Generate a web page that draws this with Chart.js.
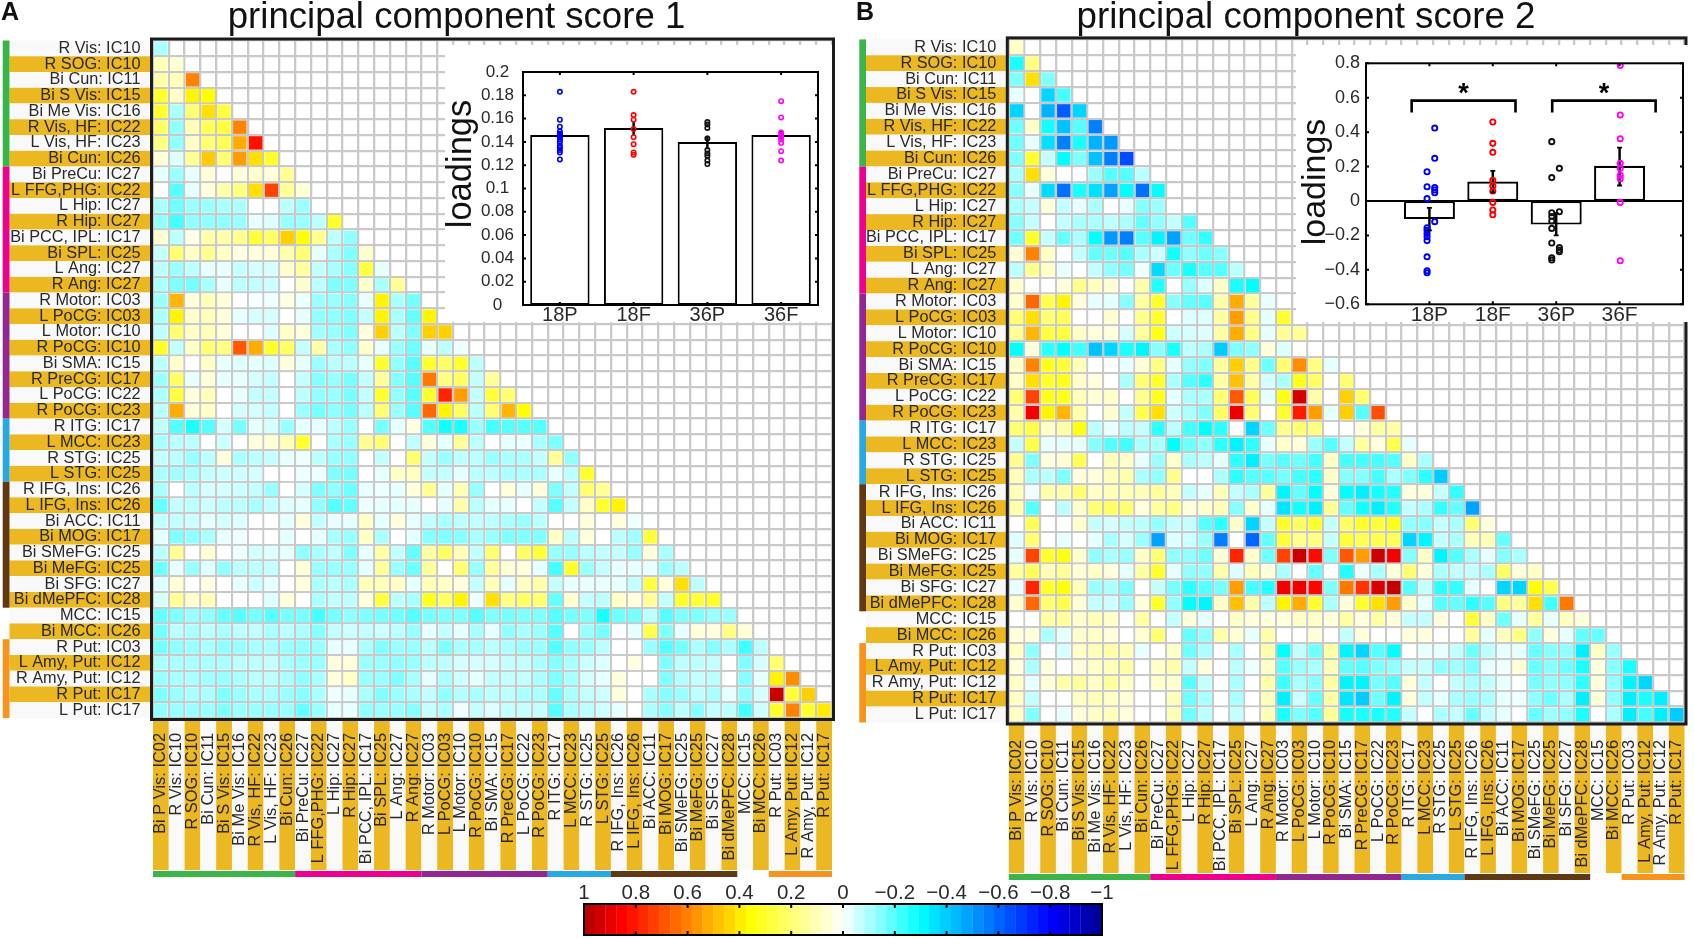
<!DOCTYPE html>
<html><head><meta charset="utf-8">
<style>
html,body{margin:0;padding:0;background:#fff;width:1694px;height:938px;overflow:hidden}
canvas{position:absolute;display:block}
#insetA,#insetB{background:#fff}
</style>
<script src="https://cdn.jsdelivr.net/npm/chart.js@4/dist/chart.umd.min.js"></script>
</head><body>
<canvas id="heatA" width="845" height="890" style="left:0;top:0;width:845px;height:890px"></canvas>
<canvas id="heatB" width="844" height="890" style="left:850px;top:0;width:844px;height:890px"></canvas>
<canvas id="insetA" width="387" height="277" style="left:445px;top:45px;width:387px;height:277px"></canvas>
<canvas id="insetB" width="394" height="277" style="left:1296px;top:45px;width:394px;height:277px"></canvas>
<canvas id="cbar" width="560" height="66" style="left:564px;top:872px;width:560px;height:66px"></canvas>
<script>
const rowLabels=["R Vis: IC10","R SOG: IC10","Bi Cun: IC11","Bi S Vis: IC15","Bi Me Vis: IC16","R Vis, HF: IC22","L Vis, HF: IC23","Bi Cun: IC26","Bi PreCu: IC27","L FFG,PHG: IC22","L Hip: IC27","R Hip: IC27","Bi PCC, IPL: IC17","Bi SPL: IC25","L Ang: IC27","R Ang: IC27","R Motor: IC03","L PoCG: IC03","L Motor: IC10","R PoCG: IC10","Bi SMA: IC15","R PreCG: IC17","L PoCG: IC22","R PoCG: IC23","R ITG: IC17","L MCC: IC23","R STG: IC25","L STG: IC25","R IFG, Ins: IC26","L IFG, Ins: IC26","Bi ACC: IC11","Bi MOG: IC17","Bi SMeFG: IC25","Bi MeFG: IC25","Bi SFG: IC27","Bi dMePFC: IC28","MCC: IC15","Bi MCC: IC26","R Put: IC03","L Amy, Put: IC12","R Amy, Put: IC12","R Put: IC17","L Put: IC17"];
const colLabels=["Bi P Vis: IC02","R Vis: IC10","R SOG: IC10","Bi Cun: IC11","Bi S Vis: IC15","Bi Me Vis: IC16","R Vis, HF: IC22","L Vis, HF: IC23","Bi Cun: IC26","Bi PreCu: IC27","L FFG,PHG: IC22","L Hip: IC27","R Hip: IC27","Bi PCC, IPL: IC17","Bi SPL: IC25","L Ang: IC27","R Ang: IC27","R Motor: IC03","L PoCG: IC03","L Motor: IC10","R PoCG: IC10","Bi SMA: IC15","R PreCG: IC17","L PoCG: IC22","R PoCG: IC23","R ITG: IC17","L MCC: IC23","R STG: IC25","L STG: IC25","R IFG, Ins: IC26","L IFG, Ins: IC26","Bi ACC: IC11","Bi MOG: IC17","Bi SMeFG: IC25","Bi MeFG: IC25","Bi SFG: IC27","Bi dMePFC: IC28","MCC: IC15","Bi MCC: IC26","R Put: IC03","L Amy, Put: IC12","R Amy, Put: IC12","R Put: IC17"];
const groupColors=["#39b54a","#ec008c","#92278f","#27aae1","#603913","#f7941d"];
const groupRows=[[0,7],[8,15],[16,23],[24,27],[28,35],[38,42]];
const groupCols=[[0,8],[9,16],[17,24],[25,28],[29,36],[39,42]];

const matrixA=[
[-.1],
[.1,.06],
[.12,.1,.6],
[.3,.08,.38,.36],
[.3,-.1,.2,.42,.27],
[.22,-.13,.1,.24,.27,.6],
[.18,-.13,.08,.2,.24,.52,.82],
[.06,-.04,.15,.46,.2,.55,.42,.3],
[-.03,-.12,-.03,.05,0,.05,.07,.05,.15],
[0,-.2,-.03,.05,.12,.18,.42,.72,.15,.06],
[-.1,-.17,-.12,-.12,-.1,-.1,0,0,-.08,-.12,0],
[-.13,-.22,-.13,-.13,-.13,-.12,-.03,-.04,-.12,-.12,-.08,.3],
[.07,-.08,.03,.12,.12,.16,.28,.22,.45,.36,.16,-.08,-.13],
[-.07,.2,.08,.16,.08,.04,.05,.05,.12,.2,-.03,-.1,-.15,.07],
[-.08,-.12,-.08,-.03,-.03,-.07,-.05,-.05,.07,.14,-.07,-.1,-.14,.27,-.03],
[-.1,-.15,-.16,-.1,-.03,-.08,-.07,-.06,0,.07,-.08,-.15,-.15,.07,-.1,.15],
[-.12,.5,.05,.1,.05,0,-.01,-.02,.04,-.02,-.12,-.12,-.14,-.03,.38,-.1,-.16],
[-.1,.38,.07,.1,.05,-.03,-.05,-.05,0,-.03,-.13,-.13,-.15,-.07,.38,-.1,-.18,.38],
[-.08,.2,.08,.1,.05,0,0,-.04,.08,.05,-.11,-.12,-.15,.05,.45,-.08,-.15,.45,.45],
[.3,-.07,.08,.2,.18,.68,.52,.3,.22,-.07,.12,-.1,-.13,.07,-.03,-.12,-.17,-.03,-.08,-.02],
[-.08,.07,0,.08,-.03,-.04,-.03,-.04,.05,-.03,-.12,-.08,-.08,-.03,.3,-.13,-.2,.3,.22,.3,-.08],
[-.12,.22,-.03,.05,-.03,-.03,-.05,-.07,0,-.07,-.14,-.12,-.16,-.07,.14,-.14,-.2,.62,.18,.22,-.07,.14],
[-.1,.27,.05,.1,0,-.03,-.07,-.07,0,-.08,-.13,-.12,-.16,-.07,.3,-.13,-.2,.3,.78,.55,-.07,.28,.2],
[-.08,.52,.05,.08,0,-.05,-.05,-.07,0,-.12,-.16,-.13,-.16,-.08,.2,-.12,-.2,.65,.38,.22,-.08,.2,.5,.36],
[-.08,-.2,-.27,-.2,-.05,-.16,-.03,-.05,-.12,-.03,-.03,-.08,-.12,0,-.16,-.03,.04,-.2,-.28,-.27,-.12,-.22,-.2,-.2,-.2],
[-.1,-.08,-.08,0,-.06,0,.05,.06,.1,.3,0,-.1,-.12,.16,.2,0,-.07,.05,-.03,.15,-.08,0,-.03,-.02,-.1,-.15],
[-.07,-.08,-.12,-.08,.05,-.1,-.08,-.07,-.03,-.02,-.08,-.12,-.13,0,-.07,0,.2,-.07,-.12,-.08,-.08,-.12,-.1,-.1,-.07,.15,-.13],
[-.1,-.11,-.1,-.07,-.06,-.06,-.05,0,0,-.02,-.02,-.15,-.16,0,-.03,.08,.09,-.07,-.07,-.03,-.08,-.08,-.1,-.1,-.1,-.03,-.08,.3],
[-.1,0,-.08,-.05,-.05,-.06,-.07,-.12,0,-.05,-.15,-.13,-.17,-.03,-.02,-.03,.05,.15,-.03,.1,-.12,0,.05,-.03,.05,-.15,-.07,.2,.15],
[-.18,-.07,-.08,-.06,-.08,-.08,-.1,-.07,-.04,-.03,-.13,-.2,-.18,-.02,-.03,-.03,-.03,0,-.03,.12,-.08,-.03,-.03,0,-.07,-.2,-.07,.08,.3,.38],
[-.07,-.07,-.06,-.03,-.05,-.04,0,0,-.03,.05,-.07,-.03,-.03,.08,-.03,.05,-.03,-.07,-.1,-.08,-.07,-.08,-.1,-.12,-.08,0,0,.05,0,.05,-.02],
[-.03,-.15,-.13,-.1,-.03,-.02,0,0,-.03,0,-.03,-.1,-.12,.08,-.1,0,-.03,-.14,-.15,-.14,-.1,-.12,-.15,-.15,-.15,.08,-.08,.05,0,-.08,-.11,.28],
[-.08,.15,0,.06,0,-.02,-.05,-.04,-.03,-.13,-.1,-.07,-.15,-.03,.12,-.07,-.18,.13,.22,.1,-.07,.2,0,.22,.28,-.12,-.12,-.08,-.07,-.07,-.12,.05,-.1],
[-.17,-.03,-.12,-.04,-.13,-.08,-.08,-.07,0,.06,-.12,-.12,-.12,-.03,.14,-.12,-.17,.14,0,.2,-.12,.14,.06,.05,-.03,-.22,.3,-.12,-.07,-.03,-.03,-.03,-.12,-.08],
[-.04,.06,0,.04,0,-.03,-.06,-.03,0,.05,-.1,-.08,-.1,.1,.1,.08,-.03,.1,.08,.05,-.07,.1,-.03,.09,.12,-.07,-.03,-.03,-.03,-.03,-.07,.27,.05,.42,-.08],
[-.05,.15,.07,.1,0,0,0,-.04,.05,0,-.1,-.07,-.08,.05,.27,-.08,-.1,.32,.22,.38,-.02,.42,.18,.22,.2,-.18,.07,-.07,-.08,.08,.05,.15,-.07,.3,.28,.3],
[-.18,-.15,-.12,-.13,-.18,-.2,-.16,-.2,-.16,-.16,-.22,-.16,-.13,-.15,-.16,-.17,-.2,-.16,-.15,-.15,-.2,-.15,-.16,-.15,-.15,-.2,-.16,-.15,-.27,-.17,-.16,-.08,-.2,-.15,-.15,-.12,-.12],
[-.16,-.08,-.1,-.08,-.1,-.08,-.07,-.1,-.08,-.1,-.14,-.07,-.06,-.07,-.06,-.08,-.12,-.03,-.07,-.03,-.1,-.03,-.13,-.1,-.12,-.2,0,-.12,-.16,0,-.03,.25,-.15,-.03,.05,.05,.18,.06],
[-.16,-.13,-.12,-.1,-.13,-.12,-.1,-.1,-.12,-.13,-.12,-.03,-.03,-.1,-.15,-.12,-.12,-.08,-.15,-.1,-.1,-.08,-.1,-.12,-.12,-.2,-.13,-.12,-.08,0,0,-.12,-.2,-.16,-.1,-.14,-.1,-.23,-.08],
[-.1,-.1,-.1,-.1,-.1,-.08,-.08,-.07,-.1,-.12,-.12,.05,.05,-.12,-.12,-.13,-.12,-.08,-.08,-.05,-.05,-.05,-.07,-.07,-.1,-.14,-.1,-.06,-.04,0,.04,0,-.15,-.08,-.08,-.07,0,-.15,-.05,.2],
[-.12,-.1,-.1,-.11,-.12,-.1,-.08,-.08,-.1,-.13,-.1,.05,.08,-.12,-.12,-.15,-.1,-.03,-.1,-.06,-.03,-.07,-.07,-.07,-.1,-.15,-.1,-.05,-.03,.05,0,0,-.15,-.09,-.07,-.08,0,-.14,-.03,.38,.58],
[-.15,-.12,-.1,-.1,-.15,-.12,-.1,-.1,-.12,-.14,-.1,-.02,-.03,-.1,-.15,-.12,-.1,-.07,-.13,-.09,-.1,-.08,-.08,-.1,-.1,-.18,-.1,-.07,-.06,.05,0,-.1,-.14,-.12,-.08,-.1,-.03,-.13,-.05,.95,.28,.45],
[-.13,-.12,-.12,-.12,-.15,-.12,-.12,-.12,-.12,-.18,-.12,-.03,-.03,-.13,-.12,-.12,-.14,-.07,-.1,-.02,-.07,-.04,-.07,-.07,-.07,-.2,-.1,-.08,-.06,-.03,0,-.1,-.14,-.08,-.14,-.07,-.08,-.22,-.06,.3,.6,.3,.4]
];
const matrixB=[
[.08],
[-.27,.18],
[-.15,.42,-.15],
[-.03,0,-.38,-.22],
[-.38,0,-.45,-.62,-.38],
[-.17,.08,-.28,-.42,-.2,-.55],
[-.17,-.03,-.36,-.55,-.27,-.45,-.5],
[-.15,.3,-.07,-.3,-.15,-.42,-.55,-.65],
[-.1,.42,.05,0,0,-.12,-.2,-.2,-.08],
[-.14,-.03,-.37,-.58,-.27,-.36,-.48,-.3,-.58,-.3],
[-.1,-.07,.05,-.07,-.03,-.1,0,-.03,-.14,-.12,0],
[-.14,-.07,0,-.07,-.1,-.1,-.08,-.1,-.18,-.13,-.07,-.2],
[-.17,.3,-.07,-.18,-.1,-.3,-.5,-.55,-.2,-.32,-.48,-.17,-.24],
[.06,.6,.08,0,-.07,-.18,-.17,-.2,-.1,-.06,-.28,-.13,-.17,-.14],
[-.08,.16,.08,-.03,0,-.07,-.13,-.16,-.02,-.37,-.17,-.27,-.2,-.2,-.08],
[.07,0,0,.05,.16,.09,.06,0,.12,-.26,0,-.12,-.04,.08,-.27,-.3],
[.07,.65,.25,.38,.05,-.03,-.03,-.14,.14,.3,-.14,-.18,-.2,.12,.52,.14,-.03],
[.2,.42,.2,.24,0,0,.07,0,.16,.3,0,-.04,-.04,.13,.55,.17,-.03,.3],
[.15,.5,.27,.27,.08,.05,.05,-.05,.14,.33,-.06,-.05,-.04,.13,.52,.18,-.03,.15,.15],
[-.3,.05,-.25,-.3,-.22,-.42,-.38,-.27,-.32,-.14,-.27,-.08,-.1,-.4,-.15,-.13,.05,-.04,0,0],
[.08,.6,.32,.28,.1,0,0,-.03,.06,.18,-.03,-.13,-.15,.14,.45,.17,-.17,.2,.58,.18,-.03],
[.08,.42,.3,.32,.07,.05,0,-.1,.2,.3,-.1,-.2,-.25,.13,.48,.13,-.05,-.1,.32,.22,0,.2],
[.2,.72,.32,.32,.1,.06,.08,0,.16,.32,-.03,-.1,-.1,.2,.68,.24,-.03,.33,.93,.12,0,.45,.2],
[.12,.87,.38,.5,.12,0,.07,-.07,.25,.42,-.06,-.1,-.15,.22,.88,.2,0,.3,.8,.55,-.03,.45,-.2,.7],
[.2,.26,.08,.12,.33,-.08,-.03,-.08,-.07,-.25,-.08,-.22,-.3,-.25,0,-.38,-.17,.16,.2,.18,0,0,.05,.13,.12],
[-.07,.26,-.03,-.03,-.03,-.14,-.2,-.22,-.1,-.1,-.3,-.17,-.13,-.25,-.32,-.25,-.03,.08,.05,-.12,-.2,-.07,.14,.05,.25,-.03],
[.16,-.15,.05,.06,.24,0,.1,.08,-.03,-.12,.08,-.1,-.08,-.03,-.25,-.33,-.16,-.2,-.17,-.22,.08,-.22,-.22,-.22,-.2,.08,-.1],
[.1,-.1,-.08,-.15,.05,.05,.1,.12,-.1,-.13,.16,0,0,-.1,-.25,-.2,-.2,-.16,-.22,-.25,.08,-.14,-.14,-.22,-.1,-.15,-.25,-.4],
[.1,-.02,.12,.12,.2,.08,.1,.1,.1,.14,.1,-.07,-.03,.1,-.07,-.1,.14,-.32,-.18,-.3,.05,-.3,-.33,-.28,-.26,.05,.05,-.07,-.24],
[.12,-.2,0,-.08,.07,.2,.22,.2,.05,.14,.18,.05,.07,.1,-.14,.07,-.03,-.35,-.28,-.33,.15,-.18,-.28,-.33,-.26,-.07,-.1,-.24,-.18,-.48],
[0,.24,0,0,.07,-.07,-.05,-.07,-.08,-.13,-.07,-.07,-.2,-.25,.07,-.38,-.07,.3,.22,.3,-.07,.22,.3,.28,.32,-.13,-.14,-.07,-.1,.2,.05],
[-.04,.2,0,-.03,0,-.03,-.1,-.05,-.12,-.48,-.04,-.06,-.12,-.55,0,-.6,-.18,.28,.16,.18,-.07,.28,.24,.25,.24,-.38,-.32,-.07,-.1,.1,.1,-.18],
[-.03,.72,.3,.33,.07,-.13,-.1,-.12,.08,.2,-.13,-.13,-.17,.06,.78,.07,-.17,.72,.95,.83,-.15,.68,.55,.95,.87,-.14,.08,-.32,-.2,-.1,-.03,-.14,-.1],
[.14,.24,.1,.15,.06,.08,.05,-.03,.13,.3,-.03,-.13,-.13,.12,-.04,.1,.05,-.1,0,-.18,0,-.26,-.02,-.1,.05,.2,.05,-.1,-.07,-.07,-.1,.22,.05,.08],
[-.03,.78,.3,.35,.1,-.12,-.1,-.15,0,-.07,-.16,-.25,-.2,-.16,.55,-.22,-.26,.87,.88,.84,-.15,.62,.75,.92,.96,-.2,-.07,-.25,-.24,-.03,0,-.38,-.38,.36,.25],
[.07,.65,.2,.25,.06,-.07,-.06,-.12,.05,.3,-.13,-.3,-.32,.08,.48,.12,-.08,.38,.52,.3,-.1,.05,.3,.42,.55,.07,-.03,-.2,-.18,-.25,-.2,.18,.14,.42,-.22,.62],
[0,0,.13,.14,.07,.1,.08,0,.13,0,-.07,.05,-.03,0,.08,.05,.05,.05,.08,.08,.05,.13,.05,.13,.05,-.07,-.07,.05,0,.27,.08,-.17,-.03,.14,-.03,.09,.05],
[.05,.05,-.1,-.03,.07,.08,.05,0,.07,.2,0,-.18,-.13,.12,.06,-.03,.12,0,0,.05,0,-.07,.05,0,0,.05,.05,0,0,.14,-.03,.09,.18,-.13,.05,-.03,-.18,-.18],
[.08,-.13,0,-.05,.08,.1,.12,.1,-.03,0,.08,-.17,-.1,0,-.1,0,.12,-.3,-.07,-.17,.13,-.32,-.38,-.2,-.3,0,-.03,-.03,-.07,-.17,-.08,-.03,-.03,-.18,-.14,-.13,-.33,.08,-.12],
[.05,-.1,.05,0,.05,.08,.1,.13,0,.08,.12,-.07,.05,0,-.08,-.02,.08,-.2,-.12,-.1,.1,-.18,-.2,-.15,-.13,-.07,-.07,-.13,-.11,-.15,-.03,-.02,.06,-.18,-.14,-.17,-.27,.05,-.14,-.27],
[.08,-.03,.06,.12,.14,.08,.14,.08,0,.07,.07,-.2,-.07,0,-.1,0,.12,-.23,-.1,-.14,.13,-.32,-.32,-.16,-.2,.05,-.07,0,-.07,-.1,-.07,-.03,0,-.16,-.13,-.13,-.25,.05,-.13,-.32,-.38],
[.08,-.07,0,0,.08,.1,.08,.06,0,0,.1,-.17,-.1,0,-.1,0,.1,-.33,-.06,-.18,.13,-.35,-.4,-.17,-.32,.05,-.07,-.03,-.1,-.12,-.1,-.03,-.02,-.13,-.17,-.1,-.33,.05,-.13,-.33,-.27,-.33],
[.08,-.15,0,-.03,.05,.08,.1,.05,0,0,.1,-.17,-.08,0,-.07,0,.1,-.27,-.15,-.2,.15,-.28,-.27,-.27,-.26,-.07,0,-.1,-.07,-.18,-.07,-.03,0,-.18,-.12,-.13,-.27,0,-.1,-.33,-.22,-.33,-.4]
];

const groupNames=["18P","18F","36P","36F"];
const barMeansA=[.146,.152,.14,.146];
const errLowA=[.143,.146,.134,.142];
const errHighA=[.149,.157,.145,.15];
const pts18PA=[.183,.159,.153,.149,.147,.146,.145,.144,.142,.14,.137,.135,.133,.131,.125];
const pts18FA=[.183,.163,.159,.151,.144,.138,.131,.129];
const pts36PA=[.157,.155,.152,.143,.133,.13,.128,.124,.121];
const pts36FA=[.175,.161,.148,.146,.144,.142,.139,.132,.124];

const barMeansB=[-.105,.113,-.137,.205];
const errLowB=[-.17,.05,-.2,.09];
const errHighB=[-.04,.175,-.07,.31];
const pts18PBa=[.17,.083,.014,-.155,-.17,-.188,-.207,-.23,-.324,-.405,-.417];
const pts18PBb=[.424,.248,.078,.064,.048,-.12];
const pts18FB=[.459,.335,.283,.12,.087,.058,-.008,-.052,-.08];
const pts36PBa=[.345,.136,-.068,-.09,-.116,-.159,-.244,-.33,-.343];
const pts36PBb=[.19,-.062,-.27,-.285,-.295];
const pts36FB=[.787,.5,.362,.219,.19,.15,.13,-.008,-.347];
const sigBrackets=[[.72,2.358],[2.937,4.568]];
const colorbarTicks=[1,.8,.6,.4,.2,0,-.2,-.4,-.6,-.8,-1];
const colorbarLevels=[.979,.938,.896,.854,.813,.771,.729,.688,.646,.604,.563,.521,.479,.438,.396,.354,.313,.271,.229,.188,.146,.104,.063,.021,-.021,-.063,-.104,-.146,-.188,-.229,-.271,-.313,-.354,-.396,-.438,-.479,-.521,-.563,-.604,-.646,-.688,-.729,-.771,-.813,-.854,-.896,-.938,-.979];

const colorStops=[[1,[176,0,0]],[.85,[255,0,0]],[.36,[255,255,0]],[0,[255,255,255]],[-.3,[0,255,255]],[-.8,[0,0,255]],[-1,[0,0,144]]];
function colorOf(v){
  for(let i=0;i<colorStops.length-1;i++){
    const a=colorStops[i],b=colorStops[i+1];
    if(v<=a[0]&&v>=b[0]){
      const t=(a[0]-v)/(a[0]-b[0]);
      const c=a[1].map((x,k)=>Math.round(x+(b[1][k]-x)*t));
      return `rgb(${c[0]},${c[1]},${c[2]})`;
    }
  }
  return '#fff';
}
const FONT='"Liberation Sans",Arial,sans-serif';
Chart.defaults.font.family=FONT;
Chart.defaults.animation=false;
Chart.defaults.events=[];
Chart.defaults.plugins.legend.display=false;
Chart.defaults.plugins.tooltip.enabled=false;
const GOLD='#ecb821',PALE='#f9f9f9',INK='#2a2a2a';

function fix(w,h){return s=>{ if(w!==null)s.width=w; if(h!==null)s.height=h; s.paddingLeft=s.paddingRight=s.paddingTop=s.paddingBottom=0; };}
const idx=n=>Array.from({length:n},(_,i)=>i);

function makeHeat(id,matrix,g){
  const points=[],colors=[];
  matrix.forEach((row,r)=>row.forEach((v,c)=>{points.push({x:c,y:r});colors.push(colorOf(v));}));
  const N=rowLabels.length;
  const setTicks=s=>{s.ticks=idx(N).map(v=>({value:v}));};
  const setEdges=s=>{s.ticks=idx(N+1).map(v=>({value:v-.5}));};
  const panel={id:'panel',
    beforeDraw(ch){
      const c=ch.ctx,a=ch.chartArea,X=ch.scales.x,Y=ch.scales.y;
      rowLabels.forEach((_,r)=>{
        const y0=Y.getPixelForValue(r-.5),y1=Y.getPixelForValue(r+.5);
        c.fillStyle=r%2?GOLD:PALE;
        c.fillRect(g.bandLeft,y0,a.left-g.bandLeft,y1-y0);
      });
      colLabels.forEach((_,k)=>{
        const x0=X.getPixelForValue(k-.5),x1=X.getPixelForValue(k+.5);
        c.fillStyle=k%2?PALE:GOLD;
        c.fillRect(x0,g.bandTop,x1-x0,g.bandBottom-g.bandTop);
      });
      groupRows.forEach((sp,i)=>{
        const y0=Y.getPixelForValue(sp[0]-.5),y1=Y.getPixelForValue(sp[1]+.5);
        c.fillStyle=groupColors[i];
        c.fillRect(g.stripLeft,y0,g.bandLeft-g.stripLeft,y1-y0);
      });
      groupCols.forEach((sp,i)=>{
        const x0=X.getPixelForValue(sp[0]-.5),x1=X.getPixelForValue(sp[1]+.5);
        c.fillStyle=groupColors[i];
        c.fillRect(x0,g.bandBottom+1,x1-x0,6);
      });
    },
    afterDraw(ch){
      const c=ch.ctx,a=ch.chartArea;
      c.save();
      c.strokeStyle='#1c1c1c';c.lineWidth=3;
      c.strokeRect(a.left-1.5,a.top-1.5,a.width+3,a.height+3);
      c.fillStyle='#111';c.textBaseline='alphabetic';
      c.font=g.titleSize+'px '+FONT;c.textAlign='center';
      c.fillText(g.title,g.titleX,27.5);
      c.font='bold 25px '+FONT;c.textAlign='left';
      c.fillText(g.letter,g.letterX,20);
      c.restore();
    }};
  new Chart(document.getElementById(id),{
    type:'scatter',
    data:{datasets:[{data:points,pointStyle:'rect',pointRadius:9.5,pointBackgroundColor:colors,pointBorderWidth:0,clip:false}]},
    options:{responsive:false,maintainAspectRatio:false,
      layout:{padding:g.pad},
      scales:{
        x:{type:'linear',min:-.5,max:N-.5,position:'bottom',afterBuildTicks:setTicks,afterFit:fix(null,160),
           grid:{display:false,drawTicks:false},border:{display:false},
           ticks:{autoSkip:false,minRotation:90,maxRotation:90,padding:g.xPad,color:INK,font:{size:16.4},callback:v=>colLabels[v]}},
        y:{type:'linear',min:-.5,max:N-.5,reverse:true,position:'left',afterBuildTicks:setTicks,afterFit:fix(g.yWidth,null),
           grid:{display:false,drawTicks:false},border:{display:false},
           ticks:{autoSkip:false,padding:g.yPad,color:INK,font:{size:16.3},callback:v=>rowLabels[v]}},
        gx:{type:'linear',min:-.5,max:N-.5,position:'top',afterBuildTicks:setEdges,afterFit:fix(null,0),
           border:{display:false},grid:{color:'#c9c9c9',lineWidth:2.3,drawTicks:false},ticks:{display:false,autoSkip:false}},
        gy:{type:'linear',min:-.5,max:N-.5,reverse:true,position:'right',afterBuildTicks:setEdges,afterFit:fix(0,null),
           border:{display:false},grid:{color:'#c9c9c9',lineWidth:2.3,drawTicks:false},ticks:{display:false,autoSkip:false}}
      }},
    plugins:[panel]});
}
makeHeat('heatA',matrixA,{pad:{left:0,top:40.5,right:13,bottom:12},yWidth:153,xPad:15,yPad:12.5,
  bandLeft:9.5,stripLeft:2.7,bandTop:720,bandBottom:870,title:'principal component score 1',titleSize:36.6,titleX:456.5,letter:'A',letterX:1});
makeHeat('heatB',matrixB,{pad:{left:0,top:39.4,right:2,bottom:7.5},yWidth:158.8,xPad:17.5,yPad:12.5,
  bandLeft:16,stripLeft:9.3,bandTop:725,bandBottom:873,title:'principal component score 2',titleSize:36.7,titleX:456,letter:'B',letterX:6});

function scatterSet(vals,x,color,r,bw){
  return {type:'scatter',order:1,data:vals.map(v=>({x:x,y:v})),pointStyle:'circle',pointRadius:r,
    pointBorderWidth:bw,pointBorderColor:color,pointBackgroundColor:'rgba(0,0,0,0)'};
}
function barSets(means,lo,hi,tw,et){
  return [
   {type:'bar',order:4,grouped:false,data:means.map((v,i)=>({x:i+1,y:v})),backgroundColor:'#fff',borderColor:'#000',borderWidth:tw,borderSkipped:false,categoryPercentage:.805,barPercentage:1},
   {type:'bar',order:3,grouped:false,data:lo.map((v,i)=>({x:i+1,y:[v,hi[i]]})),backgroundColor:'#000',barThickness:et,borderWidth:0}
  ];
}
function insetFrame(ch,ticksY,yTick){
  const c=ch.ctx,a=ch.chartArea,X=ch.scales.x,Y=ch.scales.y;
  c.save();c.strokeStyle='#000';c.lineWidth=2;
  c.strokeRect(a.left,a.top,a.width,a.height);
  c.beginPath();
  ticksY.forEach(v=>{const y=Y.getPixelForValue(v);c.moveTo(a.left,y);c.lineTo(a.left+yTick,y);c.moveTo(a.right,y);c.lineTo(a.right-yTick,y);});
  groupNames.forEach((_,i)=>{const x=X.getPixelForValue(i+1);c.moveTo(x,a.top);c.lineTo(x,a.top+yTick);c.moveTo(x,a.bottom);c.lineTo(x,a.bottom-yTick);});
  c.stroke();c.restore();
}
function errorCaps(ch,lo,hi,w){
  const c=ch.ctx,X=ch.scales.x,Y=ch.scales.y;
  c.save();c.strokeStyle='#000';c.lineWidth=1.8;c.beginPath();
  lo.forEach((v,i)=>{const x=X.getPixelForValue(i+1);
    [v,hi[i]].forEach(e=>{const y=Y.getPixelForValue(e);c.moveTo(x-w,y);c.lineTo(x+w,y);});});
  c.stroke();c.restore();
}
function loadingsTitle(ch,x,y,size){
  const c=ch.ctx;c.save();c.translate(x,y);c.rotate(-Math.PI/2);
  c.font=size+'px '+FONT;c.fillStyle='#111';c.textAlign='center';c.textBaseline='alphabetic';
  c.fillText('loadings',0,0);c.restore();
}
const fmt=v=>String(+(+v).toFixed(2)).replace('-','\u2212');
const ticksA=[0,.02,.04,.06,.08,.1,.12,.14,.16,.18,.2];
const ticksB=[-.6,-.4,-.2,0,.2,.4,.6,.8];

new Chart(document.getElementById('insetA'),{
  type:'bar',
  data:{datasets:[...barSets(barMeansA,errLowA,errHighA,2,1.8),
    scatterSet(pts18PA,1,'#0000ff',2.2,1.6),scatterSet(pts18FA,2,'#ff0000',2.2,1.6),scatterSet(pts36PA,3,'#111',2.2,1.6),scatterSet(pts36FA,4,'#ff00ff',2.2,1.6)]},
  options:{responsive:false,maintainAspectRatio:false,layout:{padding:{left:0,top:27,right:14,bottom:0}},
    scales:{
      x:{type:'linear',offset:false,min:.5,max:4.5,afterBuildTicks:s=>{s.ticks=groupNames.map((_,i)=>({value:i+1}));},afterFit:fix(null,17),
         grid:{display:false,drawTicks:false},border:{display:false},ticks:{autoSkip:false,maxRotation:0,padding:-2,color:INK,font:{size:20},callback:v=>groupNames[v-1]}},
      y:{min:0,max:.2,afterBuildTicks:s=>{s.ticks=ticksA.map(v=>({value:v}));},afterFit:fix(78,null),
         grid:{display:false,drawTicks:false},border:{display:false},ticks:{autoSkip:false,crossAlign:'center',padding:9,color:INK,font:{size:17},callback:fmt}}
    }},
  plugins:[{id:'frameA',afterDatasetsDraw(ch){insetFrame(ch,ticksA,3);loadingsTitle(ch,26,119,34.5);}}]
});

const bracketSets=sigBrackets.map(b=>({type:'line',order:2,data:[{x:b[0],y:.514},{x:b[0],y:.583},{x:b[1],y:.583},{x:b[1],y:.514}],
   borderColor:'#000',borderWidth:2.6,pointRadius:0,tension:0,fill:false}));
new Chart(document.getElementById('insetB'),{
  type:'bar',
  data:{datasets:[...barSets(barMeansB,errLowB,errHighB,2.2,1.8),
    {type:'line',order:2,data:[{x:0,y:0},{x:5,y:0}],borderColor:'#000',borderWidth:2.2,pointRadius:0},
    ...bracketSets,
    scatterSet(pts18PBa,.963,'#0000ff',2.6,1.9),scatterSet(pts18PBb,1.084,'#0000ff',2.6,1.9),scatterSet(pts18FB,2,'#ff0000',2.6,1.9),
    scatterSet(pts36PBa,2.93,'#111',2.6,1.9),scatterSet(pts36PBb,3.05,'#111',2.6,1.9),scatterSet(pts36FB,4.01,'#ff00ff',2.6,1.9)]},
  options:{responsive:false,maintainAspectRatio:false,layout:{padding:{left:0,top:18.3,right:7,bottom:0}},
    scales:{
      x:{type:'linear',offset:false,min:0,max:5,afterBuildTicks:s=>{s.ticks=groupNames.map((_,i)=>({value:i+1}));},afterFit:fix(null,17.7),
         grid:{display:false,drawTicks:false},border:{display:false},ticks:{autoSkip:false,maxRotation:0,padding:-2,color:INK,font:{size:21},callback:v=>groupNames[v-1]}},
      y:{min:-.6,max:.8,afterBuildTicks:s=>{s.ticks=ticksB.map(v=>({value:v}));},afterFit:fix(70,null),
         grid:{display:false,drawTicks:false},border:{display:false},ticks:{autoSkip:false,padding:6,color:INK,font:{size:18},callback:fmt}}
    }},
  plugins:[{id:'frameB',afterDatasetsDraw(ch){
    insetFrame(ch,ticksB,3);loadingsTitle(ch,29,137,34);
    errorCaps(ch,errLowB,errHighB,2.5);
    const c=ch.ctx,X=ch.scales.x,Y=ch.scales.y;
    c.save();c.font='bold 27px '+FONT;c.fillStyle='#000';c.textAlign='center';c.textBaseline='alphabetic';
    sigBrackets.forEach(b=>c.fillText('*',X.getPixelForValue((b[0]+b[1])/2),Y.getPixelForValue(.66)+15));
    c.restore();
  }}]
});

new Chart(document.getElementById('cbar'),{
  type:'bar',
  data:{datasets:[{data:colorbarLevels.map(v=>({x:v,y:1})),backgroundColor:colorbarLevels.map(colorOf),borderWidth:0,categoryPercentage:1,barPercentage:1.05}]},
  options:{responsive:false,maintainAspectRatio:false,layout:{padding:{left:20,right:22,top:0,bottom:3}},
    scales:{
      x:{type:'linear',offset:false,reverse:true,min:-1,max:1,position:'top',afterBuildTicks:s=>{s.ticks=colorbarTicks.map(v=>({value:v}));},afterFit:fix(null,32),
         grid:{display:false,drawTicks:false},border:{display:false},ticks:{autoSkip:false,maxRotation:0,padding:-2,color:INK,font:{size:20.5},callback:fmt}},
      y:{display:false,min:0,max:1}
    }},
  plugins:[{id:'cbarFrame',afterDatasetsDraw(ch){
    const c=ch.ctx,a=ch.chartArea,X=ch.scales.x;
    c.save();c.strokeStyle='#000';c.lineWidth=2;c.strokeRect(a.left,a.top,a.width,a.height);
    c.beginPath();colorbarTicks.forEach(v=>{const x=X.getPixelForValue(v);c.moveTo(x,a.top);c.lineTo(x,a.top+4);c.moveTo(x,a.bottom);c.lineTo(x,a.bottom-4);});
    c.stroke();c.restore();
  }}]
});
</script>
</body></html>
